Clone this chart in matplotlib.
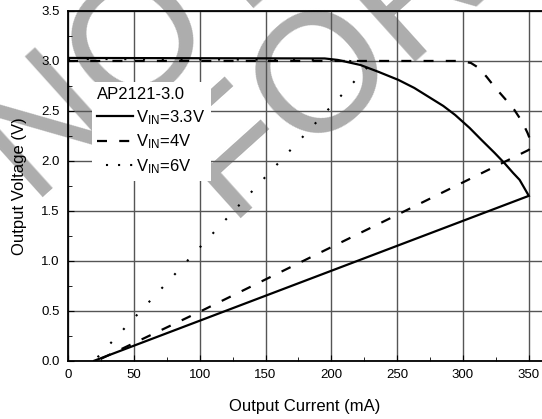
import numpy as np
import matplotlib
matplotlib.use("Agg")
import matplotlib.pyplot as plt
from matplotlib.lines import Line2D
from matplotlib.ticker import MultipleLocator, FormatStrFormatter

plt.rcParams['font.family'] = ['Liberation Sans', 'DejaVu Sans']
plt.rcParams['mathtext.fontset'] = 'custom'
plt.rcParams['mathtext.rm'] = 'Liberation Sans'

# VIN = 3.3V
cur_33 = [0, 195, 205, 222, 236, 251, 263, 274, 285, 294, 305, 314, 324, 332, 338, 343, 350, 20]
vout_33 = [3.03, 3.025, 3.01, 2.96, 2.89, 2.81, 2.73, 2.64, 2.55, 2.46, 2.33, 2.21, 2.08, 1.97, 1.88, 1.81, 1.65, 0.0]
# VIN = 4V
cur_4 = [0, 298, 306, 312, 318, 324, 332, 339, 345, 349, 352, 350, 250, 100, 22]
vout_4 = [3.0, 3.0, 2.98, 2.93, 2.84, 2.74, 2.62, 2.51, 2.39, 2.28, 2.18, 2.11, 1.46, 0.49, 0.0]
# VIN = 6V
cur_6 = [0, 210, 218, 224, 227, 20]
vout_6 = [3.02, 3.01, 2.99, 2.96, 2.93, 0.0]

labels = [r'$\mathregular{V_{IN}}$=3.3V', r'$\mathregular{V_{IN}}$=4V', r'$\mathregular{V_{IN}}$=6V']

W, H = 542, 419
fig = plt.figure(figsize=(W / 100, H / 100), dpi=100)
ax = fig.add_axes([68 / W, 1 - 360.7 / H, 1 - 68 / W, (360.7 - 11) / H])
ax.set_facecolor('none')

# watermark
wm = dict(fontsize=122, color='#adadad', rotation=42, rotation_mode='anchor',
          ha='center', va='center', zorder=-1)
fig.text(133 / W, 1 - 45 / H, 'NOT', **wm)
fig.text(331 / W, 1 - 66 / H, 'FOR', **wm)

l33, = ax.plot(cur_33, vout_33, color='black', lw=1.6, solid_joinstyle='miter')
l4, = ax.plot(cur_4, vout_4, color='black', lw=1.6, linestyle=(0, (4.5, 5.5)))
l6, = ax.plot(cur_6, vout_6, color='black', lw=1.5)
l6.set_dashes([1.0, 8.0])
proxy6 = Line2D([], [], color='black', lw=1.5, linestyle=(1.5, (1.0, 4.8)))

ax.set_xlim(0, 360)
ax.set_ylim(0, 3.5)
ax.xaxis.set_major_locator(MultipleLocator(50))
ax.xaxis.set_minor_locator(MultipleLocator(25))
ax.yaxis.set_major_locator(MultipleLocator(0.5))
ax.yaxis.set_minor_locator(MultipleLocator(0.25))
ax.yaxis.set_major_formatter(FormatStrFormatter('%.1f'))
ax.grid(True, which='major', color='#555555', lw=1.0)
ax.tick_params(which='both', direction='in', labelsize=9.5, pad=6)
ax.tick_params(which='major', length=4)
ax.tick_params(which='minor', length=3)
ax.set_xticks([0, 50, 100, 150, 200, 250, 300, 350])
for s in ['left', 'bottom', 'top']:
    ax.spines[s].set_linewidth(1.3)
ax.spines['right'].set_visible(False)

ax.set_xlabel('Output Current (mA)', fontsize=12, labelpad=13)
ax.set_ylabel('Output Voltage (V)', fontsize=12, labelpad=10)

leg = ax.legend([l33, l4, proxy6], labels, title='AP2121-3.0', loc='upper left',
                bbox_to_anchor=(0.05, 0.797), borderaxespad=0, fontsize=12,
                title_fontsize=12, alignment='left', frameon=True, fancybox=False,
                framealpha=1, edgecolor='none', handlelength=2.2, handletextpad=0.18,
                labelspacing=0.35, borderpad=0.3)
leg.set_zorder(5)

fig.savefig('out.png', dpi=100)
